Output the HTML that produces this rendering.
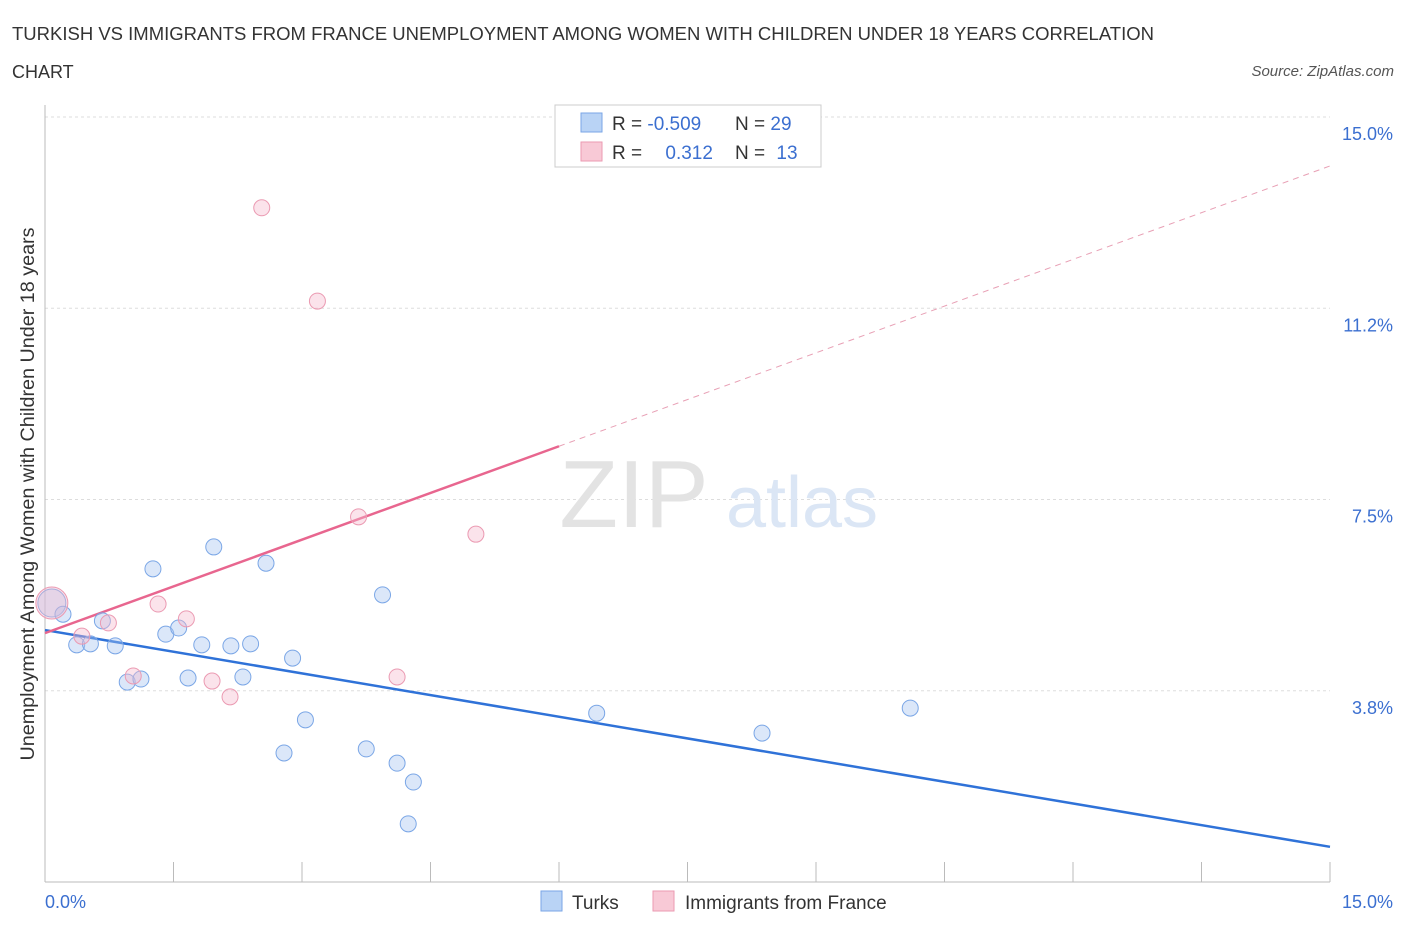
<!DOCTYPE html>
<html><head><meta charset="utf-8"><style>
body{margin:0;background:#fff;font-family:"Liberation Sans",sans-serif;}
svg text{font-family:"Liberation Sans",sans-serif;}
</style></head><body>
<svg id="chart" width="1406" height="930" xmlns="http://www.w3.org/2000/svg">
<text x="12" y="40" font-size="18" fill="#333" textLength="1142" lengthAdjust="spacingAndGlyphs">TURKISH VS IMMIGRANTS FROM FRANCE UNEMPLOYMENT AMONG WOMEN WITH CHILDREN UNDER 18 YEARS CORRELATION</text>
<text x="12" y="78" font-size="18" fill="#333">CHART</text>
<text x="1394" y="76" font-size="15" fill="#555" font-style="italic" text-anchor="end">Source: ZipAtlas.com</text>
<g id="grid"></g>
<g>
<text x="634" y="527" font-size="96" fill="#e3e3e3" font-family="Liberation Serif" text-anchor="middle">ZIP</text>
<text x="802" y="527" font-size="72" fill="#dbe6f5" text-anchor="middle">atlas</text>
</g>
<g id="axes"></g>
<g id="lines"></g>
<g id="points"></g>
<text transform="translate(34,494) rotate(-90)" font-size="19.5" fill="#333" text-anchor="middle" textLength="533" lengthAdjust="spacingAndGlyphs">Unemployment Among Women with Children Under 18 years</text>
<g>
<rect x="555" y="105" width="266" height="62" fill="#fff" stroke="#ccc"/>
<rect x="581" y="113" width="21" height="19" fill="#b9d3f5" stroke="#7aa6e6"/>
<rect x="581" y="142" width="21" height="19" fill="#f8c9d6" stroke="#eb9ab2"/>
<text x="612" y="130" font-size="19" fill="#333">R = <tspan fill="#3b6fd0">-0.509</tspan></text>
<text x="735" y="130" font-size="19" fill="#333">N = <tspan fill="#3b6fd0">29</tspan></text>
<text x="612" y="159" font-size="19" fill="#333">R = <tspan fill="#3b6fd0" dx="18">0.312</tspan></text>
<text x="735" y="159" font-size="19" fill="#333">N = <tspan fill="#3b6fd0" dx="6">13</tspan></text>
</g>
<g>
<rect x="541" y="891" width="21" height="20" fill="#b9d3f5" stroke="#7aa6e6"/>
<text x="572" y="909" font-size="19" fill="#333">Turks</text>
<rect x="653" y="891" width="21" height="20" fill="#f8c9d6" stroke="#eb9ab2"/>
<text x="685" y="909" font-size="19" fill="#333">Immigrants from France</text>
</g>
</svg>
<script>
const yTicks=[3.75,7.5,11.25,15];
const yTickLabels=["3.8%","7.5%","11.2%","15.0%"];
const turksX=[0.08,0.21,0.37,0.53,0.67,0.82,0.96,1.12,1.26,1.41,1.56,1.67,1.83,1.97,2.17,2.31,2.40,2.58,2.79,2.89,3.04,3.75,3.94,4.11,4.24,4.30,6.44,8.37,10.10];
const turksY=[5.47,5.25,4.65,4.67,5.12,4.63,3.92,3.98,6.14,4.86,4.98,4.00,4.65,6.57,4.63,4.02,4.67,6.25,2.53,4.39,3.18,2.61,5.63,2.33,1.14,1.96,3.31,2.92,3.41];
const franceX=[0.08,0.43,0.74,1.03,1.32,1.65,1.95,2.16,2.53,3.18,3.66,4.11,5.03];
const franceY=[5.47,4.82,5.08,4.04,5.45,5.16,3.94,3.63,13.22,11.39,7.16,4.02,6.82];
const turksLine=[4.94,0.69];
const franceLine=[4.88,14.04];
const franceSolidEnd=6.0;
const NS="http://www.w3.org/2000/svg";
const X=v=>45+v/15*1285, Y=v=>882-v/15*765;
function mk(t,a,p){const e=document.createElementNS(NS,t);for(const k in a)e.setAttribute(k,a[k]);p.appendChild(e);return e;}
const grid=document.getElementById('grid'),axes=document.getElementById('axes');
yTicks.forEach((t,i)=>{
 const g=mk('line',{x1:45,x2:1330,y1:Y(t),y2:Y(t),stroke:'#ddd','stroke-dasharray':'3,3'},grid);
 
 
 const l=mk('text',{x:1393,y:Y(t)+23,'font-size':18,fill:'#3b6fd0','text-anchor':'end'},axes);
 l.textContent=yTickLabels[i];
 
 
});
mk('line',{x1:45,x2:45,y1:105,y2:882,stroke:'#bbb'},axes);
mk('line',{x1:45,x2:1330,y1:882,y2:882,stroke:'#bbb'},axes);
for(let i=0;i<=10;i++){const x=45+i*128.5;mk('line',{x1:x,x2:x,y1:862,y2:882,stroke:'#bbb'},axes);}
const x0=mk('text',{x:45,y:908,'font-size':18,fill:'#3b6fd0'},axes);x0.textContent="0.0%";


const x1=mk('text',{x:1393,y:908,'font-size':18,fill:'#3b6fd0','text-anchor':'end'},axes);x1.textContent="15.0%";


const lines=document.getElementById('lines');
const bl=mk('line',{x1:X(0),y1:Y(turksLine[0]),x2:X(15),y2:Y(turksLine[1]),stroke:'#2f72d8','stroke-width':2.5},lines);


const fy=x=>franceLine[0]+(franceLine[1]-franceLine[0])*x/15;
const pl=mk('line',{x1:X(0),y1:Y(fy(0)),x2:X(franceSolidEnd),y2:Y(fy(franceSolidEnd)),stroke:'#e8668f','stroke-width':2.5},lines);


const pd=mk('line',{x1:X(franceSolidEnd),y1:Y(fy(franceSolidEnd)),x2:X(15),y2:Y(fy(15)),stroke:'#e8a0b5','stroke-width':1,'stroke-dasharray':'6,5'},lines);


const pts=document.getElementById('points');
turksX.forEach((v,i)=>{
 const c=mk('circle',{cx:X(v),cy:Y(turksY[i]),r:i==0?14:8,fill:'rgba(165,196,240,0.4)',stroke:'#7aa6e6','stroke-width':1},pts);
 
 
});
franceX.forEach((v,i)=>{
 const c=mk('circle',{cx:X(v),cy:Y(franceY[i]),r:i==0?16:8,fill:'rgba(246,185,204,0.4)',stroke:'#eb9ab2','stroke-width':1},pts);
 
 
});
</script>
</body></html>
